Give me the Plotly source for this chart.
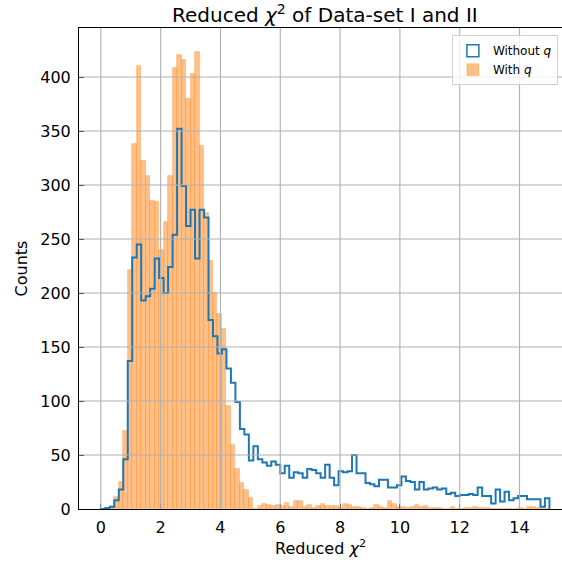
import numpy as np
import plotly.graph_objects as go

# ---- data ----
bin_start = 0.0
bin_width = 0.15

without_q = [0, 1, 2, 8, 18, 46, 137, 233, 245, 193,
             197, 204, 232, 214, 200, 224, 254, 352, 299, 262,
             277, 232, 277, 270, 175, 160, 144, 148, 130, 117,
             99, 74, 69, 45, 58, 46, 43, 40, 44, 41,
             33, 40, 29, 34, 33, 29, 37, 36, 33, 29,
             41, 29, 22, 35, 34, 35, 50, 33, 33, 24,
             23, 21, 27, 27, 20, 20, 22, 30, 26, 25,
             18, 25, 18, 19, 20, 18, 19, 14, 15, 12,
             13, 13, 14, 13, 20, 12, 12, 5, 18, 7,
             16, 8, 10, 12, 12, 9, 9, 9, 2, 10]

with_q = [0, 0, 2, 11, 25, 72, 221, 338, 410, 322,
          308, 285, 284, 240, 266, 308, 408, 420, 416, 380,
          403, 423, 336, 274, 230, 200, 181, 167, 95, 59,
          37, 24, 18, 10, 0, 3, 5, 4, 3, 4,
          3, 6, 2, 7, 7, 2, 4, 1, 3, 5,
          3, 3, 3, 1, 5, 4, 2, 2, 1, 0,
          1, 4, 2, 1, 7, 5, 2, 2, 1, 2,
          4, 2, 3, 1, 1, 1, 0, 0, 2, 0,
          0, 1, 1, 2, 1, 1, 1, 0, 0, 0,
          0, 0, 0, 1, 0, 2, 2, 1, 0, 0]

x_ticks = [0, 2, 4, 6, 8, 10, 12, 14]
y_ticks = [0, 50, 100, 150, 200, 250, 300, 350, 400]

# ---- derived geometry via bins ----
n_bins = len(without_q)
edges = bin_start + bin_width * np.arange(n_bins + 1)
centers = edges[:-1] + bin_width / 2

step_x = np.concatenate([[edges[0]], edges])
step_y = np.concatenate([[0], without_q, [0]])

FONT = "DejaVu Sans"
BLUE = "#1f77b4"

fig = go.Figure()

# legend-only entry for the step outline
fig.add_trace(go.Bar(
    x=[None], y=[None], name="Without <i>q</i>",
    marker=dict(color="rgba(0,0,0,0)", line=dict(color=BLUE, width=1.5)),
))

fig.add_trace(go.Bar(
    x=centers, y=with_q, width=bin_width, name="With <i>q</i>",
    marker=dict(color="rgba(255,127,14,0.5)",
                line=dict(color="rgba(255,127,14,0.35)", width=0.8)),
    hoverinfo="x+y",
))

fig.add_trace(go.Scatter(
    x=step_x, y=step_y, mode="lines",
    line=dict(shape="hv", color=BLUE, width=2),
    showlegend=False, hoverinfo="skip",
))

# grid lines drawn above bars (as in reference)
shapes = []
for v in x_ticks:
    shapes.append(dict(type="line", xref="x", yref="paper", x0=v, x1=v, y0=0, y1=1,
                       line=dict(color="#b0b0b0", width=1.1), layer="above"))
for v in y_ticks[1:]:
    shapes.append(dict(type="line", xref="paper", yref="y", x0=0, x1=1, y0=v, y1=v,
                       line=dict(color="#b0b0b0", width=1.1), layer="above"))

fig.update_layout(
    width=562, height=565,
    margin=dict(l=79, r=0, t=28, b=56, autoexpand=False),
    paper_bgcolor="white", plot_bgcolor="white",
    font=dict(family=FONT, color="black", size=16),
    barmode="overlay", bargap=0,
    shapes=shapes,
    title=dict(text="Reduced <i>χ</i><sup>2</sup> of Data-set I and II",
               x=0.509, xref="paper", xanchor="center",
               y=1 - 15 / 565, yref="container", yanchor="middle",
               font=dict(size=20, family=FONT)),
    legend=dict(x=0.772, y=0.985, xanchor="left", yanchor="top",
                bgcolor="rgba(255,255,255,0.8)", bordercolor="#d0d0d0", borderwidth=1,
                font=dict(size=12, family=FONT), traceorder="normal"),
    xaxis=dict(range=[-0.73, 15.42], tickvals=x_ticks, ticks="inside", ticklen=5,
               tickcolor="black", tickwidth=1, showline=True, linecolor="black",
               linewidth=1, mirror=True, showgrid=False, zeroline=False,
               automargin=False,
               tickfont=dict(size=16), ticklabelstandoff=4,
               title=dict(text="Reduced <i>χ</i><sup>2</sup>", font=dict(size=16), standoff=6)),
    yaxis=dict(range=[0, 445.4], tickvals=y_ticks, ticks="inside", ticklen=5,
               tickcolor="black", tickwidth=1, showline=True, linecolor="black",
               linewidth=1, mirror=False, showgrid=False, zeroline=False,
               automargin=False,
               tickfont=dict(size=16), ticklabelstandoff=4,
               title=dict(text="Counts", font=dict(size=16), standoff=8)),
)

fig.write_html("out.html",
               config={"displayModeBar": False},
               post_script="document.body.style.margin='0';document.body.style.overflow='hidden';")
